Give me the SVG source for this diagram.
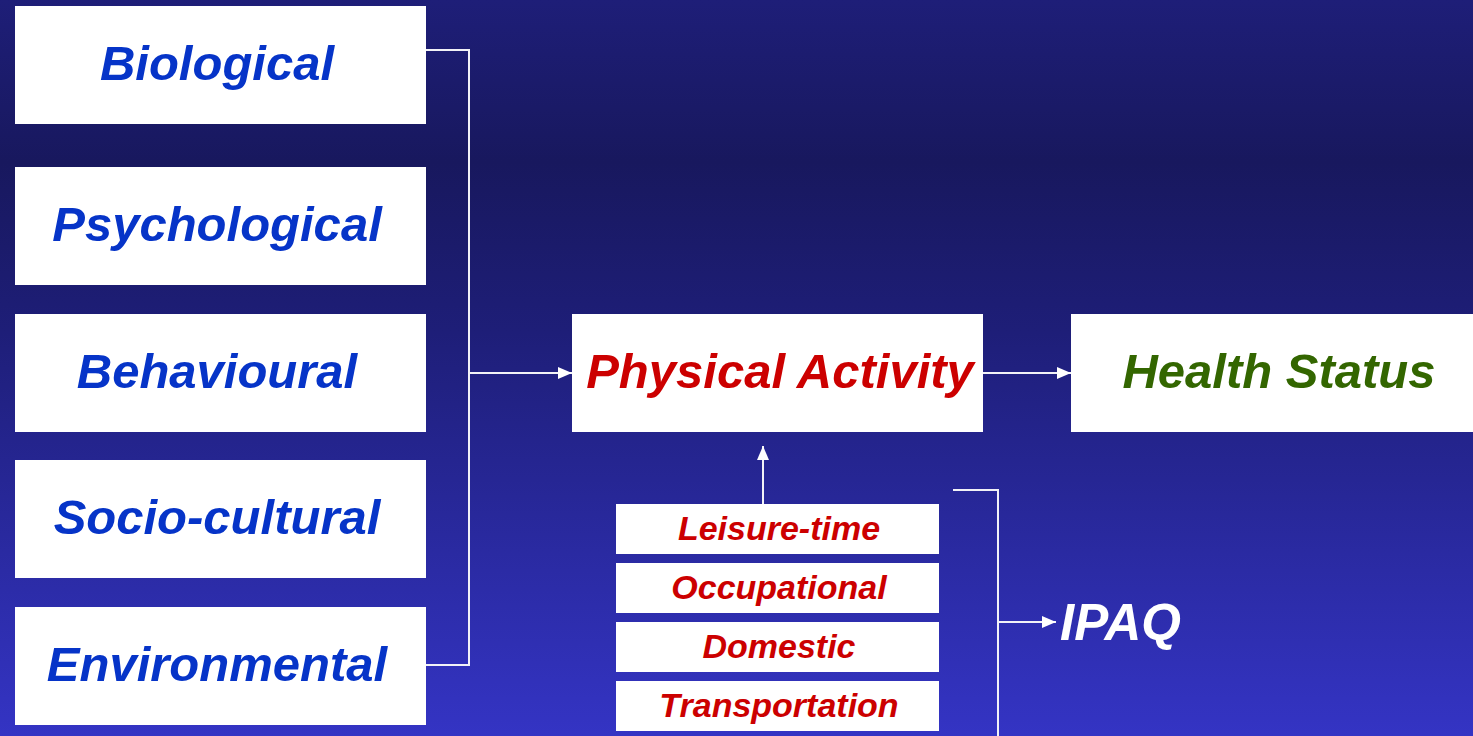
<svg xmlns="http://www.w3.org/2000/svg" width="1473" height="736" viewBox="0 0 1473 736">
<defs>
<linearGradient id="bg" x1="0" y1="0" x2="0" y2="1">
<stop offset="0" stop-color="#1e1e78"/>
<stop offset="0.22" stop-color="#18185e"/>
<stop offset="0.45" stop-color="#1e1e78"/>
<stop offset="1" stop-color="#3434c4"/>
</linearGradient>
<marker id="ah" markerWidth="14" markerHeight="12" refX="14" refY="6" orient="auto" markerUnits="userSpaceOnUse">
<path d="M0,0 L14,6 L0,12 Z" fill="#ffffff"/>
</marker>
<style>
.box{fill:#ffffff}
.t{font-family:"Liberation Sans",Arial,sans-serif;font-weight:bold;font-style:italic;text-anchor:middle}
.big{font-size:49px}
.small{font-size:34px}
.blue{fill:#0634c8}
.red{fill:#cc0000}
.green{fill:#336600}
.ln{stroke:#f2f2f7;stroke-width:2;fill:none}
</style>
</defs>
<rect x="0" y="0" width="1473" height="736" fill="url(#bg)"/>
<g id="biological"><rect class="box" x="15" y="6" width="411" height="118"/><text class="t big blue" x="217" y="80">Biological</text></g>
<g id="psychological"><rect class="box" x="15" y="167" width="411" height="118"/><text class="t big blue" x="217" y="241">Psychological</text></g>
<g id="behavioural"><rect class="box" x="15" y="314" width="411" height="118"/><text class="t big blue" x="217" y="388">Behavioural</text></g>
<g id="sociocultural"><rect class="box" x="15" y="460" width="411" height="118"/><text class="t big blue" x="217" y="534">Socio-cultural</text></g>
<g id="environmental"><rect class="box" x="15" y="607" width="411" height="118"/><text class="t big blue" x="217" y="681">Environmental</text></g>
<g id="physical-activity"><rect class="box" x="572" y="314" width="411" height="118"/><text class="t big red" x="780" y="388">Physical Activity</text></g>
<g id="health-status"><rect class="box" x="1071" y="314" width="402" height="118"/><text class="t big green" x="1279" y="388">Health Status</text></g>
<g id="leisure-time"><rect class="box" x="616" y="504" width="323" height="50"/><text class="t small red" x="779" y="540">Leisure-time</text></g>
<g id="occupational"><rect class="box" x="616" y="563" width="323" height="50"/><text class="t small red" x="779" y="599">Occupational</text></g>
<g id="domestic"><rect class="box" x="616" y="622" width="323" height="50"/><text class="t small red" x="779" y="658">Domestic</text></g>
<g id="transportation"><rect class="box" x="616" y="681" width="323" height="50"/><text class="t small red" x="779" y="717">Transportation</text></g>
<g id="ipaq"><text x="1060" y="640" font-family="Liberation Sans,Arial,sans-serif" font-weight="bold" font-style="italic" font-size="51" fill="#ffffff">IPAQ</text></g>
<g id="connectors">
<polyline class="ln" points="426,50 469,50 469,665 426,665"/>
<line class="ln" x1="469" y1="373" x2="572" y2="373" marker-end="url(#ah)"/>
<line class="ln" x1="983" y1="373" x2="1071" y2="373" marker-end="url(#ah)"/>
<line class="ln" x1="763" y1="504" x2="763" y2="446" marker-end="url(#ah)"/>
<polyline class="ln" points="953,490 998,490 998,736"/>
<line class="ln" x1="998" y1="622" x2="1056" y2="622" marker-end="url(#ah)"/>
</g>
</svg>
